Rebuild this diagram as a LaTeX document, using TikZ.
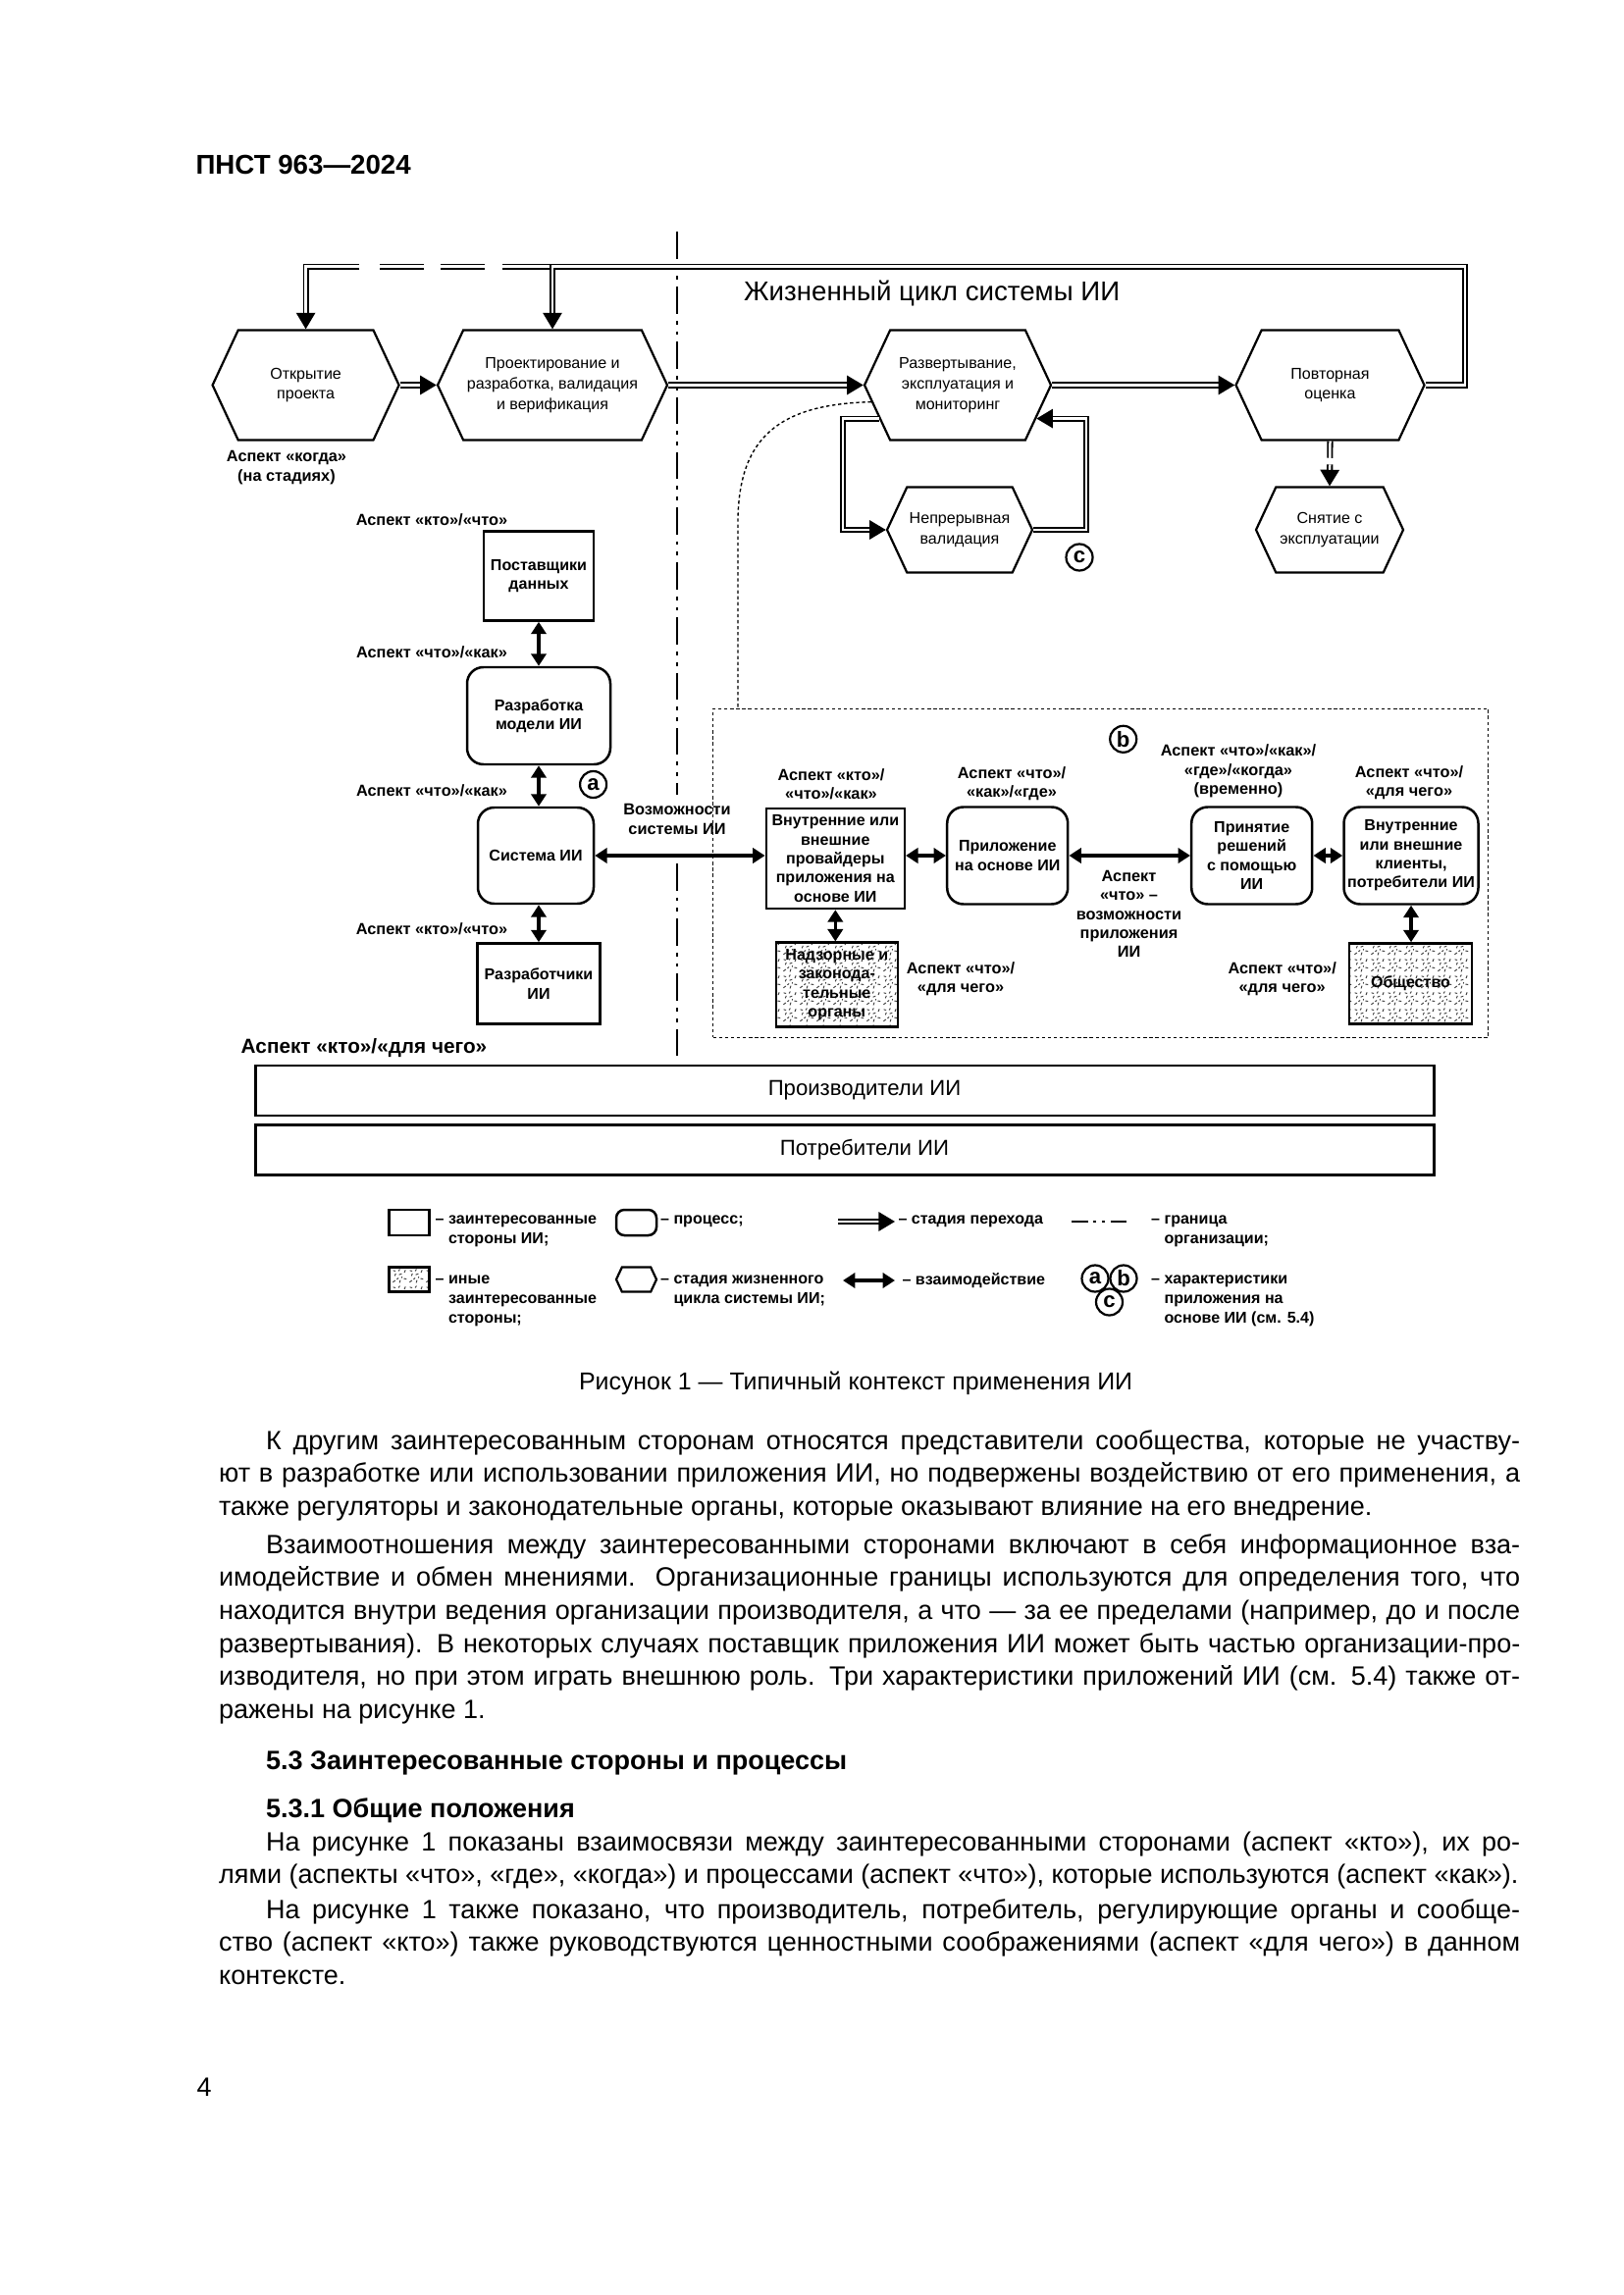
\documentclass[tikz,border=0pt]{standalone}
\usepackage{fontspec}
\setmainfont{Liberation Sans}
\usetikzlibrary{positioning,shapes.symbols,arrows.meta,patterns}

\newlength{\upx}
\setlength{\upx}{0.0126965cm}

% speckled fill for other stakeholders
\pgfdeclarepatternformonly{speckle}{\pgfqpoint{0pt}{0pt}}{\pgfqpoint{6pt}{6pt}}{\pgfqpoint{6pt}{6pt}}{%
  \pgfsetlinewidth{0.35pt}
  \pgfpathmoveto{\pgfqpoint{0.5pt}{0.8pt}}\pgfpathlineto{\pgfqpoint{1.4pt}{1.5pt}}
  \pgfpathmoveto{\pgfqpoint{3.0pt}{0.6pt}}\pgfpathlineto{\pgfqpoint{3.3pt}{1.6pt}}
  \pgfpathmoveto{\pgfqpoint{4.6pt}{2.2pt}}\pgfpathlineto{\pgfqpoint{5.6pt}{2.0pt}}
  \pgfpathmoveto{\pgfqpoint{1.2pt}{3.2pt}}\pgfpathlineto{\pgfqpoint{1.6pt}{4.1pt}}
  \pgfpathmoveto{\pgfqpoint{2.8pt}{3.6pt}}\pgfpathlineto{\pgfqpoint{3.8pt}{4.0pt}}
  \pgfpathmoveto{\pgfqpoint{4.8pt}{4.4pt}}\pgfpathlineto{\pgfqpoint{5.2pt}{5.4pt}}
  \pgfpathmoveto{\pgfqpoint{0.6pt}{5.2pt}}\pgfpathlineto{\pgfqpoint{1.5pt}{5.0pt}}
  \pgfpathmoveto{\pgfqpoint{2.0pt}{1.9pt}}\pgfpathlineto{\pgfqpoint{2.6pt}{2.4pt}}
  \pgfpathmoveto{\pgfqpoint{3.8pt}{2.4pt}}\pgfpathlineto{\pgfqpoint{3.9pt}{2.9pt}}
  \pgfpathmoveto{\pgfqpoint{2.6pt}{5.0pt}}\pgfpathlineto{\pgfqpoint{3.1pt}{5.7pt}}
  \pgfusepath{stroke}}

\begin{document}
\begin{tikzpicture}[
    x=0.0126965cm, y=-0.0126965cm,
    stage/.style={signal, signal to=west and east, signal pointer angle=130, draw, line width=0.8pt, align=center, inner sep=0pt, font=\fontsize{5.8}{7.5}\selectfont},
    party/.style={rectangle, draw, line width=0.9pt, align=center, inner sep=0pt, font=\bfseries\fontsize{5.8}{7}\selectfont},
    proc/.style={party, rounded corners=6pt},
    other/.style={party, pattern=speckle, pattern color=black!75},
    asp/.style={align=center, inner sep=0pt, font=\bfseries\fontsize{5.9}{7}\selectfont},
    tag/.style={circle, draw, line width=0.8pt, minimum size=27\upx, inner sep=0pt, font=\bfseries\fontsize{8}{8}\selectfont},
    trans/.style={double, double distance=0.9pt, line width=0.65pt, -{Triangle[length=6pt,width=7pt]}},
    inter/.style={line width=1.3pt, {Triangle[length=4.5pt,width=5.5pt]}-{Triangle[length=4.5pt,width=5.5pt]}},
    orgline/.style={line width=1pt, dash pattern=on 10pt off 2.5pt on 1.4pt off 2.5pt on 1.4pt off 2.5pt},
    zone/.style={draw, line width=0.5pt, dash pattern=on 1.2pt off 1pt},
    legtext/.style={anchor=west, align=left, inner sep=0pt, font=\bfseries\fontsize{5.8}{7.2}\selectfont},
    bodytext/.style={anchor=base west, inner sep=0pt, text width=1326\upx, align=justify, font=\fontsize{9.75}{12.17}\selectfont}
]

% page
\fill[white] (0,0) rectangle (1654,2339);
\useasboundingbox (0,0) rectangle (1654,2339);
\node[anchor=base west, inner sep=0pt, font=\bfseries\fontsize{10}{12}\selectfont] (header) at (199,178) {ПНСТ 963—2024};

% organisation boundary
\coordinate (orgtop) at (690,236);
\coordinate (orggapA) at (690,810);
\coordinate (orggapB) at (690,880);
\coordinate (orgbot) at (690,1078);
\draw[orgline] (orgtop) -- (orggapA);
\draw[orgline] (orggapB) -- (orgbot);

% life cycle stages
\node[anchor=west, inner sep=0pt, font=\fontsize{10}{12}\selectfont] (lifecycle) at (757.6,299) {Жизненный цикл системы ИИ};
\node[stage, minimum width=190\upx, minimum height=112\upx] (open) at (311.6,392.5) {Открытие\\проекта};
\node[stage, minimum width=234\upx, minimum height=112\upx] (design) at (563,392.5) {Проектирование и\\разработка, валидация\\и верификация};
\node[stage, minimum width=190\upx, minimum height=112\upx] (deploy) at (976,392.5) {Развертывание,\\эксплуатация и\\мониторинг};
\node[stage, minimum width=192\upx, minimum height=112\upx] (reeval) at (1355.5,392.5) {Повторная\\оценка};
\node[stage, minimum width=148\upx, minimum height=87\upx] (cont) at (978,540) {Непрерывная\\валидация};
\node[stage, minimum width=150\upx, minimum height=87\upx] (retire) at (1355,540) {Снятие с\\эксплуатации};
\node[asp] (lwhen) at (292,476.5) {Аспект «когда»\\(на стадиях)};
\node[tag] (tagc) at (1100,568) {c};

% transitions
\coordinate (fbR) at (1493,271.7);
\coordinate (loopL) at (859,540);
\coordinate (loopR) at (1107,540);
\draw[trans, dash pattern=on 18.4pt off 6.5pt on 16.2pt off 6.1pt on 16.2pt off 7.6pt on 60pt] (design.north |- fbR) -| (open.north);
\draw[trans] (reeval.east) -| (fbR) -| (design.north);
\draw[trans] (open.east) -- (design.west);
\draw[trans] (design.east) -- (deploy.west);
\draw[trans] (deploy.east) -- (reeval.west);
\draw[trans, dash pattern=on 6.2pt off 2.4pt] (reeval.south) -- (retire.north);
\draw[trans] (deploy.203) -| (loopL) -- (cont.west);
\draw[trans] (cont.east) -- (loopR) |- (deploy.337);

% AI system development
\node[asp] (lsupp) at (440,530) {Аспект «кто»/«что»};
\node[party, minimum width=112\upx, minimum height=91\upx] (supp) at (549,587) {Поставщики\\данных};
\node[asp] (lmodel) at (440,665) {Аспект «что»/«как»};
\node[proc, minimum width=146\upx, minimum height=99\upx] (model) at (549,729.5) {Разработка\\модели ИИ};
\node[tag] (taga) at (604.6,799.5) {a};
\node[asp] (lsys) at (440,805.6) {Аспект «что»/«как»};
\node[proc, minimum width=118\upx, minimum height=98\upx] (system) at (546,872) {Система ИИ};
\node[asp] (ldev) at (440,947) {Аспект «кто»/«что»};
\node[party, minimum width=125\upx, minimum height=82\upx] (dev) at (549,1002.5) {Разработчики\\ИИ};
\node[asp] (lcap) at (690,835) {Возможности\\системы ИИ};
\node[asp, font=\bfseries\fontsize{7.5}{9}\selectfont] (lwhy) at (371,1068) {Аспект «кто»/«для чего»};

\draw[inter] (supp.south) -- (model.north);
\draw[inter] (model.south) -- (model.south |- system.north);
\draw[inter] (system.south -| dev.north) -- (dev.north);

% AI application
\node[zone, minimum width=790\upx, minimum height=335\upx] (appzone) at (1121.7,889.9) {};
\coordinate (cbend) at (752,530);
\draw[zone] (deploy.191) .. controls (795,412) and (753,445) .. (cbend) -- (cbend |- appzone.north);
\node[tag] (tagb) at (1144.7,753.3) {b};

\node[asp] (lprov) at (847,799) {Аспект «кто»/\\«что»/«как»};
\node[party, minimum width=141\upx, minimum height=102\upx] (prov) at (851.3,875) {Внутренние или\\внешние\\провайдеры\\приложения на\\основе ИИ};
\node[asp] (lapp) at (1031,799) {Аспект «что»/\\«как»/«где»};
\node[proc, minimum width=123\upx, minimum height=99\upx] (app) at (1026.7,872) {Приложение\\на основе ИИ};
\node[asp] (lappcap) at (1150.5,931.5) {Аспект\\«что» –\\возможности\\приложения\\ИИ};
\node[asp] (ldec) at (1262,786) {Аспект «что»/«как»/\\«где»/«когда»\\(временно)};
\node[proc, minimum width=123\upx, minimum height=99\upx] (dec) at (1275.7,872) {Принятие\\решений\\с помощью\\ИИ};
\node[asp] (lcli) at (1436,797.5) {Аспект «что»/\\«для чего»};
\node[proc, minimum width=137\upx, minimum height=99\upx] (cli) at (1438,872) {Внутренние\\или внешние\\клиенты,\\потребители ИИ};
\node[other, minimum width=124\upx, minimum height=86\upx] (reg) at (852.8,1003.7) {Надзорные и\\законода-\\тельные\\органы};
\node[asp] (lreg) at (979,997.5) {Аспект «что»/\\«для чего»};
\node[other, minimum width=125\upx, minimum height=82\upx] (soc) at (1437.5,1002.5) {Общество};
\node[asp] (lsoc) at (1306.7,997.5) {Аспект «что»/\\«для чего»};

\draw[inter] (system.east) -- (system.east -| prov.west);
\draw[inter] (prov.east |- app.west) -- (app.west);
\draw[inter] (app.east) -- (dec.west);
\draw[inter] (dec.east) -- (cli.west);
\draw[inter] (prov.south) -- (prov.south |- reg.north);
\draw[inter] (cli.south) -- (cli.south |- soc.north);

% producers and consumers
\node[party, line width=1pt, font=\fontsize{8}{9.6}\selectfont, minimum width=1201\upx, minimum height=51\upx] (makers) at (861,1111.5) {\hspace*{40\upx}Производители ИИ};
\node[party, line width=1pt, font=\fontsize{8}{9.6}\selectfont, minimum width=1201\upx, minimum height=51\upx] (users) at (861,1171.7) {\hspace*{40\upx}Потребители ИИ};

% legend
\node[party, minimum width=41\upx, minimum height=26\upx] (lgparty) at (417,1246) {};
\node[legtext] (lgpartyt) at (456.5,1255) {\llap{– }заинтересованные\\стороны ИИ;};
\node[other, minimum width=41\upx, minimum height=25\upx] (lgother) at (417,1304) {};
\node[legtext] (lgothert) at (456.5,1325.5) {\llap{– }иные\\заинтересованные\\стороны;};
\node[proc, rounded corners=3pt, minimum width=41\upx, minimum height=26\upx] (lgproc) at (648.5,1246) {};
\node[legtext] (lgproct) at (686,1245) {\llap{– }процесс;};
\node[stage, minimum width=41\upx, minimum height=25\upx] (lgstage) at (648.5,1304) {};
\node[legtext] (lgstaget) at (686,1315.5) {\llap{– }стадия жизненного\\цикла системы ИИ;};
\coordinate (lgtransA) at (854,1245);
\coordinate (lgtransB) at (912,1245);
\draw[trans] (lgtransA) -- (lgtransB);
\node[legtext] (lgtranst) at (915,1245) {– стадия перехода};
\coordinate (lginterA) at (859,1305);
\coordinate (lginterB) at (912,1305);
\draw[inter] (lginterA) -- (lginterB);
\node[legtext] (lgintert) at (919,1305) {– взаимодействие};
\coordinate (lgorgA) at (1092,1245);
\coordinate (lgorgB) at (1149,1245);
\draw[orgline, dash pattern=on 6pt off 2pt on 1.2pt off 2pt on 1.2pt off 2pt on 6pt] (lgorgA) -- (lgorgB);
\node[legtext] (lgorgt) at (1186,1255) {\llap{– }граница\\организации;};
\node[tag] (lga) at (1116,1303) {a};
\node[tag] (lgb) at (1145,1303) {b};
\node[tag] (lgc) at (1130.5,1327) {c};
\node[legtext] (lgtagt) at (1186,1325.5) {\llap{– }характеристики\\приложения на\\основе ИИ (см. 5.4)};

% caption and text
\node[anchor=base, inner sep=0pt, font=\fontsize{9}{11}\selectfont] (caption) at (872,1416) {Рисунок 1 — Типичный контекст применения ИИ};

\node[bodytext] (para1) at (222.6,1477) {\hspace*{48\upx}К другим заинтересованным сторонам относятся представители сообщества, которые не участву-\linebreak ют в разработке или использовании приложения ИИ, но подвержены воздействию от его применения, а\linebreak также регуляторы и законодательные органы, которые оказывают влияние на его внедрение.};
\node[bodytext] (para2) at (222.6,1583) {\hspace*{48\upx}Взаимоотношения между заинтересованными сторонами включают в себя информационное вза-\linebreak имодействие и обмен мнениями. Организационные границы используются для определения того, что\linebreak находится внутри ведения организации производителя, а что — за ее пределами (например, до и после\linebreak развертывания). В некоторых случаях поставщик приложения ИИ может быть частью организации-про-\linebreak изводителя, но при этом играть внешнюю роль. Три характеристики приложений ИИ (см. 5.4) также от-\linebreak ражены на рисунке 1.};
\node[anchor=base west, inner sep=0pt, font=\bfseries\fontsize{9.75}{12}\selectfont] (sec53) at (270.6,1803) {5.3 Заинтересованные стороны и процессы};
\node[anchor=base west, inner sep=0pt, font=\bfseries\fontsize{9.75}{12}\selectfont] (sec531) at (270.6,1852) {5.3.1 Общие положения};
\node[bodytext] (para3) at (222.6,1886) {\hspace*{48\upx}На рисунке 1 показаны взаимосвязи между заинтересованными сторонами (аспект «кто»), их ро-\linebreak лями (аспекты «что», «где», «когда») и процессами (аспект «что»), которые используются (аспект «как»).};
\node[bodytext] (para4) at (222.6,1955) {\hspace*{48\upx}На рисунке 1 также показано, что производитель, потребитель, регулирующие органы и сообще-\linebreak ство (аспект «кто») также руководствуются ценностными соображениями (аспект «для чего») в данном\linebreak контексте.};
\node[anchor=base west, inner sep=0pt, font=\fontsize{9.75}{12}\selectfont] (pagenum) at (200,2136) {4};

\end{tikzpicture}
\end{document}
